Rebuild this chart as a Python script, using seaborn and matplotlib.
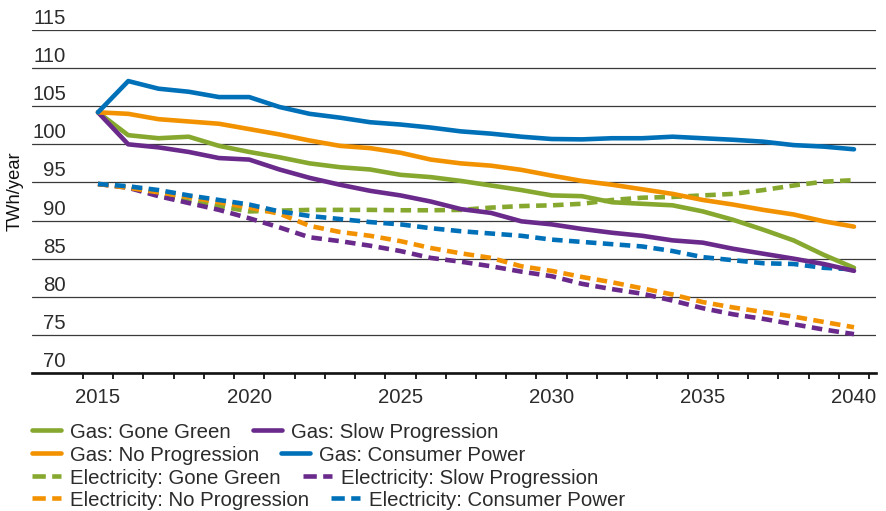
import numpy as np
import pandas as pd
import matplotlib
matplotlib.use("Agg")
import matplotlib.pyplot as plt
import matplotlib.transforms as mtransforms
from matplotlib.lines import Line2D
import seaborn as sns

years = list(range(2015, 2041))

gas_gone_green = [104.2, 101.2, 100.8, 101.0, 99.8, 99.0, 98.3, 97.5, 97.0, 96.7, 96.0, 95.7, 95.2,
                  94.6, 94.0, 93.3, 93.2, 92.4, 92.2, 92.0, 91.2, 90.1, 88.8, 87.4, 85.5, 83.8]
gas_slow_progression = [104.2, 100.0, 99.6, 99.0, 98.2, 98.0, 96.7, 95.6, 94.7, 93.9, 93.3, 92.5, 91.5,
                        91.0, 89.9, 89.5, 88.9, 88.4, 88.0, 87.4, 87.1, 86.3, 85.65, 85.0, 84.3, 83.4]
gas_no_progression = [104.2, 104.0, 103.3, 103.0, 102.7, 102.0, 101.3, 100.5, 99.8, 99.5, 98.9, 98.0, 97.5,
                      97.2, 96.65, 95.9, 95.2, 94.7, 94.1, 93.5, 92.7, 92.1, 91.4, 90.8, 89.9, 89.2]
gas_consumer_power = [104.2, 108.3, 107.3, 106.9, 106.2, 106.2, 104.9, 104.0, 103.5, 102.9, 102.6, 102.2, 101.7,
                      101.4, 101.0, 100.7, 100.65, 100.8, 100.8, 101.0, 100.8, 100.6, 100.35, 99.9, 99.7, 99.35]
elec_gone_green = [94.8, 94.4, 93.4, 92.5, 91.9, 91.2, 91.3, 91.4, 91.4, 91.4, 91.35, 91.35, 91.4,
                   91.7, 91.9, 92.0, 92.2, 92.7, 93.0, 93.1, 93.3, 93.5, 94.0, 94.6, 95.1, 95.3]
elec_slow_progression = [94.8, 94.3, 93.2, 92.3, 91.4, 90.3, 89.1, 87.8, 87.3, 86.7, 86.0, 85.1, 84.6,
                         84.0, 83.3, 82.7, 81.7, 81.0, 80.4, 79.5, 78.5, 77.7, 77.1, 76.4, 75.7, 75.1]
elec_no_progression = [94.8, 94.3, 93.7, 93.1, 92.4, 91.7, 90.9, 89.3, 88.5, 88.0, 87.3, 86.4, 85.7,
                       85.1, 84.0, 83.4, 82.6, 81.9, 81.1, 80.3, 79.3, 78.6, 78.0, 77.4, 76.7, 76.0]
elec_consumer_power = [94.8, 94.5, 94.0, 93.3, 92.7, 92.1, 91.2, 90.6, 90.2, 89.8, 89.5, 89.0, 88.6,
                       88.3, 88.0, 87.5, 87.2, 86.9, 86.6, 86.0, 85.2, 84.8, 84.4, 84.3, 83.8, 83.6]

scenarios = ["Gone Green", "Slow Progression", "No Progression", "Consumer Power"]
fuels = ["Gas", "Electricity"]
series = {
    ("Gas", "Gone Green"): gas_gone_green,
    ("Gas", "Slow Progression"): gas_slow_progression,
    ("Gas", "No Progression"): gas_no_progression,
    ("Gas", "Consumer Power"): gas_consumer_power,
    ("Electricity", "Gone Green"): elec_gone_green,
    ("Electricity", "Slow Progression"): elec_slow_progression,
    ("Electricity", "No Progression"): elec_no_progression,
    ("Electricity", "Consumer Power"): elec_consumer_power,
}
y_ticks = [70, 75, 80, 85, 90, 95, 100, 105, 110, 115]
x_ticks = [2015, 2020, 2025, 2030, 2035, 2040]

colors = {"Gone Green": "#86a82f", "Slow Progression": "#6a2a8b",
          "No Progression": "#f39200", "Consumer Power": "#0071b9"}

rows = []
for (fuel, scen), vals in series.items():
    for yr, v in zip(years, vals):
        rows.append({"year": yr, "value": v, "scenario": scen, "fuel": fuel})
df = pd.DataFrame(rows)

sns.set_theme(style="white")
plt.rcParams["font.family"] = ["Liberation Sans", "DejaVu Sans"]
text_color = "#2b2b2b"
FS = 14.7

fig = plt.figure(figsize=(8.86, 5.11), dpi=100)
ax = fig.add_axes([32 / 886, 1 - 373 / 511, 844 / 886, 343 / 511])

LW = 3.3
dash = (2.3, 1.4)
# draw electricity first, then gas on top
for fuel in ["Electricity", "Gas"]:
    sub = df[df["fuel"] == fuel]
    sns.lineplot(data=sub, x="year", y="value", hue="scenario", hue_order=scenarios,
                 palette=colors, linewidth=LW, legend=False, ax=ax,
                 estimator=None, sort=True)
for line in ax.get_lines()[:4]:
    line.set_dashes(dash)
    line.set_dash_capstyle("butt")

ax.set_ylim(70, 115)
x_left = 2015 - (98 - 32) / 30.24
x_right = 2015 + (876 - 98) / 30.24
ax.set_xlim(x_left, x_right)

# y axis: gridlines with labels sitting above them inside the plot
ax.set_yticks(y_ticks)
ax.set_yticklabels([str(t) for t in y_ticks])
ax.yaxis.grid(True, color="#3a3a3a", linewidth=0.9)
ax.set_axisbelow(True)
ax.tick_params(axis="y", length=0, pad=-(34 * 0.72), labelsize=FS, labelcolor=text_color)
offset = mtransforms.ScaledTranslation(0, 6 / 100, fig.dpi_scale_trans)
for lab in ax.get_yticklabels():
    lab.set_verticalalignment("baseline")
    lab.set_horizontalalignment("right")
    lab.set_transform(lab.get_transform() + offset)

# x axis
ax.set_xticks(x_ticks)
ax.set_xticklabels([str(t) for t in x_ticks])
ax.set_xticks(np.arange(2014.5, 2041, 1.0), minor=True)
ax.tick_params(axis="x", which="major", length=0, pad=11, labelsize=FS, labelcolor=text_color)
ax.tick_params(axis="x", which="minor", length=4.5, width=1.3, color="#111111", direction="out", bottom=True)
ax.xaxis.grid(False)

for s in ["top", "right", "left"]:
    ax.spines[s].set_visible(False)
ax.spines["bottom"].set_color("#111111")
ax.spines["bottom"].set_linewidth(1.9)

ax.set_xlabel("")
ax.set_ylabel("TWh/year", fontsize=13.2, color="#111111")
ax.yaxis.label.set_rotation_mode("default")
ax.yaxis.label.set_verticalalignment("center")
ax.yaxis.label.set_horizontalalignment("center")
ax.yaxis.set_label_coords(-17 / 844, 0.53)

# legend: four flowing rows
legend_rows = [
    [("Gas", "Gone Green"), ("Gas", "Slow Progression")],
    [("Gas", "No Progression"), ("Gas", "Consumer Power")],
    [("Electricity", "Gone Green"), ("Electricity", "Slow Progression")],
    [("Electricity", "No Progression"), ("Electricity", "Consumer Power")],
]
row_y = [432, 455, 478, 500]
for entries, yc in zip(legend_rows, row_y):
    handles = []
    labels = []
    for fuel, scen in entries:
        h = Line2D([], [], color=colors[scen], linewidth=LW)
        if fuel == "Electricity":
            h.set_dashes((2.9, 1.4))
        handles.append(h)
        labels.append(f"{fuel}: {scen}")
    fig.legend(handles, labels, loc="center left", bbox_to_anchor=(32 / 886, 1 - yc / 511),
               ncol=2, frameon=False, fontsize=FS, handlelength=1.42, handletextpad=0.44,
               columnspacing=1.08, borderpad=0, borderaxespad=0, labelcolor=text_color)

fig.savefig("out.png", dpi=100)
